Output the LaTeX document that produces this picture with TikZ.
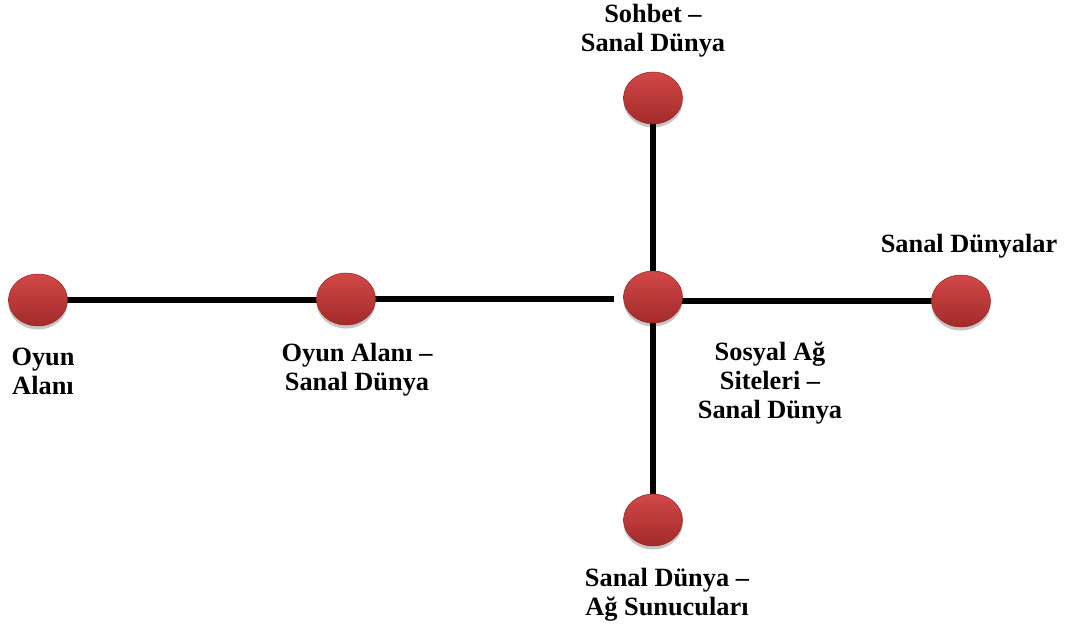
\documentclass[tikz,border=0pt]{standalone}
\usepackage{fontspec}
\setmainfont{Liberation Serif}
\usetikzlibrary{shapes.geometric,shadows}
\definecolor{dotTop}{HTML}{D24848}
\definecolor{dotBottom}{HTML}{A32A2A}
\definecolor{dotEdge}{HTML}{9A2828}
\tikzset{
  dot/.style={ellipse, minimum width=1.18cm, minimum height=1.04cm, inner sep=0pt,
    top color=dotTop, bottom color=dotBottom, draw=dotEdge, line width=0.3pt,
    drop shadow={shadow xshift=0pt, shadow yshift=-2pt, opacity=0.22, fill=black}},
  link/.style={line width=3.3pt, black},
  lbl/.style={align=center, inner sep=0pt,
    font=\fontsize{15}{16.6}\selectfont\bfseries}
}
\begin{document}
\begin{tikzpicture}[x=0.02cm, y=-0.02cm]
  \useasboundingbox (0,0) rectangle (1077,635);

  % connectors first, dots on top
  \coordinate (pSohbet) at (653,98);
  \coordinate (pHub) at (653,297);
  \coordinate (pOyun) at (38,300);
  \coordinate (pOyunSanal) at (346,299);
  \coordinate (pDunyalar) at (961,301);
  \coordinate (pSunucu) at (653,520);

  \draw[link] (pOyun) -- (pOyunSanal |- pOyun);
  \draw[link] (pOyunSanal) -- (614,299) coordinate (hubGap);
  \draw[link] (pHub |- pDunyalar) -- (pDunyalar);
  \draw[link] (pSohbet) -- (pHub);
  \draw[link] (pHub) -- (pSunucu);

  \node[dot] (sohbet) at (pSohbet) {};
  \node[dot] (hub) at (pHub) {};
  \node[dot] (oyun) at (pOyun) {};
  \node[dot] (oyunSanal) at (pOyunSanal) {};
  \node[dot] (dunyalar) at (pDunyalar) {};
  \node[dot] (sunucu) at (pSunucu) {};

  % labels
  \node[lbl] (tSohbet) at (653,31) {Sohbet –\\Sanal Dünya};
  \node[lbl] (tOyun) at (43,371) {Oyun\\Alanı};
  \node[lbl] (tOyunSanal) at (357,370) {Oyun Alanı –\\Sanal Dünya};
  \node[lbl] (tHub) at (770,383) {Sosyal Ağ\\Siteleri –\\Sanal Dünya};
  \node[lbl] (tSunucu) at (667,595) {Sanal Dünya –\\Ağ Sunucuları};
  \node[lbl] (tDunyalar) at (969,246) {Sanal Dünyalar};
\end{tikzpicture}
\end{document}
